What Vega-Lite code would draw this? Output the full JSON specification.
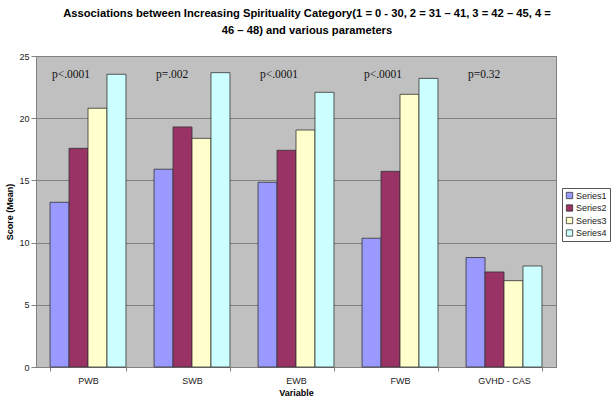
{
  "$schema": "https://vega.github.io/schema/vega-lite/v6.json",
  "width": 520,
  "height": 311,
  "autosize": {"type": "none"},
  "padding": {"left": 36, "top": 56, "right": 58, "bottom": 38},
  "background": "white",
  "title": {
    "text": ["Associations between Increasing Spirituality Category(1 = 0 - 30, 2 = 31 – 41, 3 = 42 – 45, 4 =", "46 – 48) and various parameters"],
    "font": "Liberation Sans",
    "fontSize": 11.2,
    "fontWeight": "bold",
    "color": "black",
    "anchor": "middle",
    "dx": 11,
    "lineHeight": 17,
    "offset": 16
  },
  "config": {
    "view": {"fill": "#C0C0C0", "stroke": "#808080", "strokeWidth": 1},
    "axis": {
      "labelFont": "Liberation Sans",
      "titleFont": "Liberation Sans",
      "labelFontSize": 9,
      "titleFontSize": 9,
      "titleFontWeight": "bold",
      "labelColor": "#222",
      "titleColor": "black",
      "domainColor": "#808080",
      "tickColor": "#808080"
    },
    "legend": {
      "labelFont": "Liberation Sans"
    }
  },
  "datasets": {
    "scores": [
      {"variable": "PWB", "series": "Series1", "score": 13.24},
      {"variable": "PWB", "series": "Series2", "score": 17.58},
      {"variable": "PWB", "series": "Series3", "score": 20.8},
      {"variable": "PWB", "series": "Series4", "score": 23.53},
      {"variable": "SWB", "series": "Series1", "score": 15.9},
      {"variable": "SWB", "series": "Series2", "score": 19.3},
      {"variable": "SWB", "series": "Series3", "score": 18.38},
      {"variable": "SWB", "series": "Series4", "score": 23.66},
      {"variable": "EWB", "series": "Series1", "score": 14.85},
      {"variable": "EWB", "series": "Series2", "score": 17.42},
      {"variable": "EWB", "series": "Series3", "score": 19.05},
      {"variable": "EWB", "series": "Series4", "score": 22.08},
      {"variable": "FWB", "series": "Series1", "score": 10.35},
      {"variable": "FWB", "series": "Series2", "score": 15.73},
      {"variable": "FWB", "series": "Series3", "score": 21.92},
      {"variable": "FWB", "series": "Series4", "score": 23.2},
      {"variable": "GVHD - CAS", "series": "Series1", "score": 8.8},
      {"variable": "GVHD - CAS", "series": "Series2", "score": 7.64},
      {"variable": "GVHD - CAS", "series": "Series3", "score": 6.94},
      {"variable": "GVHD - CAS", "series": "Series4", "score": 8.12}
    ],
    "pvalues": [
      {"variable": "PWB", "label": "p<.0001"},
      {"variable": "SWB", "label": "p=.002"},
      {"variable": "EWB", "label": "p<.0001"},
      {"variable": "FWB", "label": "p<.0001"},
      {"variable": "GVHD - CAS", "label": "p=0.32"}
    ]
  },
  "encoding": {
    "x": {
      "field": "variable",
      "type": "nominal",
      "sort": ["PWB", "SWB", "EWB", "FWB", "GVHD - CAS"],
      "scale": {"paddingInner": 0.27, "paddingOuter": 0.135},
      "axis": {
        "title": "Variable",
        "labelAngle": 0,
        "tickBand": "extent",
        "tickSize": 4,
        "labelPadding": 5,
        "titlePadding": 3
      }
    }
  },
  "layer": [
    {
      "data": {"name": "scores"},
      "mark": {"type": "bar", "stroke": "#333333", "strokeWidth": 0.8},
      "encoding": {
        "xOffset": {"field": "series", "type": "nominal", "scale": {"paddingInner": 0, "paddingOuter": 0}},
        "y": {
          "field": "score",
          "type": "quantitative",
          "scale": {"domain": [0, 25], "nice": false},
          "axis": {
            "title": "Score (Mean)",
            "values": [0, 5, 10, 15, 20, 25],
            "grid": true,
            "gridColor": "#808080",
            "gridWidth": 1,
            "tickSize": 5,
            "labelPadding": 2,
            "titlePadding": 4
          }
        },
        "color": {
          "field": "series",
          "type": "nominal",
          "scale": {"domain": ["Series1", "Series2", "Series3", "Series4"], "range": ["#9999FF", "#993366", "#FFFFCC", "#CCFFFF"]},
          "legend": {
            "title": null,
            "orient": "none",
            "legendX": 526,
            "legendY": 132,
            "symbolType": "square",
            "symbolSize": 40,
            "symbolStrokeColor": "#333333",
            "symbolStrokeWidth": 0.8,
            "labelFontSize": 9,
            "labelColor": "#222",
            "rowPadding": 1.5,
            "labelOffset": 2,
            "strokeColor": "#555555",
            "fillColor": "white",
            "padding": 3
          }
        }
      }
    },
    {
      "data": {"name": "pvalues"},
      "mark": {"type": "text", "font": "Liberation Serif", "fontSize": 11.5, "align": "left", "baseline": "middle", "dx": -36, "color": "#111"},
      "encoding": {
        "y": {"datum": 23.5, "type": "quantitative"},
        "text": {"field": "label"}
      }
    }
  ]
}
